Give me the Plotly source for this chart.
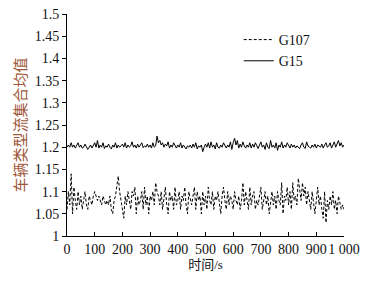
import plotly.graph_objects as go

time_s = list(range(0, 1001, 5))

g107 = [
    1.06, 1.10, 1.07, 1.14, 1.05, 1.11, 1.08, 1.06, 1.10, 1.07,
    1.09, 1.06, 1.08, 1.10, 1.07, 1.06, 1.09, 1.08, 1.07, 1.09,
    1.10, 1.09, 1.08, 1.09, 1.08, 1.07, 1.09, 1.08, 1.07, 1.08,
    1.07, 1.09, 1.06, 1.05, 1.08, 1.09, 1.12, 1.135, 1.10, 1.08,
    1.06, 1.04, 1.09, 1.07, 1.10, 1.08, 1.06, 1.10, 1.09, 1.11,
    1.05, 1.09, 1.07, 1.08, 1.10, 1.06, 1.11, 1.07, 1.09, 1.05,
    1.09, 1.08, 1.10, 1.07, 1.12, 1.10, 1.09, 1.07, 1.10, 1.06,
    1.09, 1.11, 1.07, 1.05, 1.10, 1.08, 1.09, 1.06, 1.11, 1.07,
    1.08, 1.10, 1.06, 1.09, 1.08, 1.11, 1.07, 1.05, 1.10, 1.08,
    1.07, 1.09, 1.11, 1.06, 1.10, 1.08, 1.09, 1.05, 1.10, 1.07,
    1.09, 1.06, 1.11, 1.08, 1.07, 1.10, 1.06, 1.09, 1.08, 1.10,
    1.07, 1.05, 1.09, 1.11, 1.08, 1.06, 1.10, 1.07, 1.09, 1.08,
    1.06, 1.10, 1.08, 1.07, 1.09, 1.06, 1.08, 1.12, 1.07, 1.10,
    1.08, 1.06, 1.11, 1.07, 1.09, 1.10, 1.06, 1.08, 1.07, 1.09,
    1.11, 1.06, 1.08, 1.10, 1.07, 1.09, 1.05, 1.08, 1.10, 1.07,
    1.09, 1.06, 1.10, 1.08, 1.07, 1.12, 1.05, 1.09, 1.08, 1.11,
    1.07, 1.10, 1.06, 1.12, 1.08, 1.09, 1.07, 1.13, 1.10, 1.08,
    1.12, 1.09, 1.11, 1.07, 1.10, 1.08, 1.06, 1.10, 1.07, 1.05,
    1.08, 1.11, 1.07, 1.09, 1.06, 1.04, 1.10, 1.03, 1.08, 1.06,
    1.09, 1.07, 1.10, 1.06, 1.08, 1.05, 1.09, 1.07, 1.06, 1.07,
    1.06,
]

g15 = [
    1.200, 1.205, 1.200, 1.210, 1.200, 1.205, 1.198, 1.203, 1.210, 1.200,
    1.205, 1.198, 1.200, 1.207, 1.200, 1.195, 1.200, 1.205, 1.198, 1.203,
    1.210, 1.200, 1.215, 1.198, 1.205, 1.200, 1.210, 1.197, 1.203, 1.200,
    1.207, 1.200, 1.196, 1.205, 1.200, 1.210, 1.198, 1.205, 1.200, 1.203,
    1.207, 1.200, 1.210, 1.198, 1.205, 1.200, 1.203, 1.212, 1.200, 1.205,
    1.198, 1.207, 1.200, 1.205, 1.210, 1.199, 1.203, 1.200, 1.207, 1.200,
    1.205, 1.198, 1.210, 1.200, 1.203, 1.225, 1.210, 1.215, 1.205, 1.210,
    1.200, 1.207, 1.203, 1.212, 1.198, 1.205, 1.200, 1.210, 1.203, 1.198,
    1.205, 1.200, 1.210, 1.198, 1.205, 1.200, 1.196, 1.203, 1.200, 1.205,
    1.198, 1.207, 1.200, 1.210, 1.196, 1.203, 1.200, 1.205, 1.190, 1.200,
    1.207, 1.200, 1.210, 1.198, 1.212, 1.200, 1.205, 1.196, 1.210, 1.200,
    1.198, 1.205, 1.200, 1.210, 1.203, 1.198, 1.205, 1.200, 1.212, 1.195,
    1.210, 1.220, 1.205, 1.215, 1.198, 1.207, 1.200, 1.212, 1.203, 1.198,
    1.205, 1.200, 1.210, 1.198, 1.207, 1.200, 1.210, 1.203, 1.197, 1.205,
    1.212, 1.200, 1.205, 1.195, 1.210, 1.200, 1.197, 1.215, 1.200, 1.205,
    1.198, 1.210, 1.193, 1.205, 1.200, 1.212, 1.198, 1.205, 1.200, 1.210,
    1.203, 1.198, 1.207, 1.200, 1.205, 1.198, 1.203, 1.200, 1.197, 1.205,
    1.210, 1.200, 1.197, 1.212, 1.203, 1.200, 1.198, 1.205, 1.200, 1.207,
    1.198, 1.205, 1.203, 1.200, 1.207, 1.198, 1.205, 1.210, 1.200, 1.203,
    1.210, 1.198, 1.205, 1.212, 1.200, 1.207, 1.215, 1.203, 1.210, 1.200,
    1.205,
]

x_tickvals = [0, 100, 200, 300, 400, 500, 600, 700, 800, 900, 1000]
x_ticktext = ["0", "100", "200", "300", "400", "500", "600", "700", "800", "900", "1 000"]
y_tickvals = [1, 1.05, 1.1, 1.15, 1.2, 1.25, 1.3, 1.35, 1.4, 1.45, 1.5]
y_ticktext = ["1", "1.05", "1.1", "1.15", "1.2", "1.25", "1.3", "1.35", "1.4", "1.45", "1.5"]

FONT = "'Liberation Serif', 'Noto Sans CJK SC', serif"
TICKFONT = dict(family=FONT, size=14, color="#111")

fig = go.Figure()
fig.add_trace(go.Scatter(x=time_s, y=g107, mode="lines", name="G107",
                         line=dict(color="black", width=1, dash="3px,2px")))
fig.add_trace(go.Scatter(x=time_s, y=g15, mode="lines", name="G15",
                         line=dict(color="black", width=1)))

# page body has an 8px default margin, so the figure is sized to fit the window
fig.update_layout(
    width=372, height=273,
    margin=dict(l=59, r=36, t=6, b=45, autoexpand=False),
    paper_bgcolor="white", plot_bgcolor="white",
    font=dict(family=FONT, size=14, color="#111"),
    showlegend=True,
    legend=dict(x=0.62, y=0.955, xanchor="left", yanchor="top",
                bgcolor="rgba(0,0,0,0)", font=dict(size=14, family=FONT, color="#111"),
                itemwidth=30, tracegroupgap=0),
    xaxis=dict(range=[0, 1000], tickmode="array", tickvals=x_tickvals, ticktext=x_ticktext,
               showline=True, linecolor="black", linewidth=1, showgrid=False, zeroline=False,
               ticks="inside", ticklen=4, tickcolor="black", tickfont=TICKFONT,
               tickangle=0, automargin=False, ticklabeloverflow="allow",
               title=dict(text="时间/s", font=dict(size=13, family=FONT, color="#111"), standoff=2)),
    yaxis=dict(range=[1, 1.5], tickmode="array", tickvals=y_tickvals, ticktext=y_ticktext,
               showline=True, linecolor="black", linewidth=1, showgrid=False, zeroline=False,
               ticks="outside", ticklen=4, tickcolor="black", tickfont=TICKFONT,
               automargin=False, ticklabeloverflow="allow",
               title=dict(text="车辆类型流集合均值", font=dict(size=15, family=FONT, color="#a0583a"),
                          standoff=4)),
)

fig.write_html("out.html")
